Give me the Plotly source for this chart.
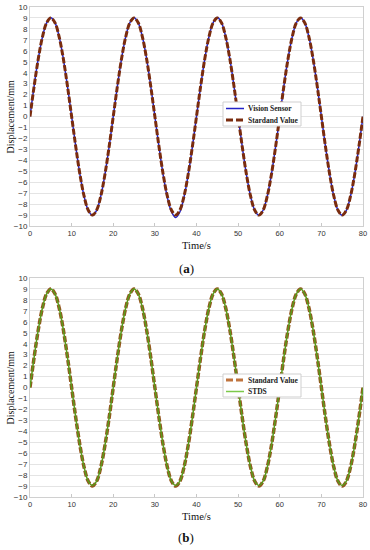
import plotly.graph_objects as go

time_s = [0, 1, 2, 3, 4, 5, 6, 7, 8, 9, 10, 11, 12, 13, 14, 15, 16, 17, 18, 19,
          20, 21, 22, 23, 24, 25, 26, 27, 28, 29, 30, 31, 32, 33, 34, 35, 36, 37, 38, 39,
          40, 41, 42, 43, 44, 45, 46, 47, 48, 49, 50, 51, 52, 53, 54, 55, 56, 57, 58, 59,
          60, 61, 62, 63, 64, 65, 66, 67, 68, 69, 70, 71, 72, 73, 74, 75, 76, 77, 78, 79, 80]

standard_value = [0, 2.78, 5.29, 7.28, 8.56, 9.0, 8.56, 7.28, 5.29, 2.78,
                  0, -2.78, -5.29, -7.28, -8.56, -9.0, -8.56, -7.28, -5.29, -2.78,
                  0, 2.78, 5.29, 7.28, 8.56, 9.0, 8.56, 7.28, 5.29, 2.78,
                  0, -2.78, -5.29, -7.28, -8.56, -9.0, -8.56, -7.28, -5.29, -2.78,
                  0, 2.78, 5.29, 7.28, 8.56, 9.0, 8.56, 7.28, 5.29, 2.78,
                  0, -2.78, -5.29, -7.28, -8.56, -9.0, -8.56, -7.28, -5.29, -2.78,
                  0, 2.78, 5.29, 7.28, 8.56, 9.0, 8.56, 7.28, 5.29, 2.78,
                  0, -2.78, -5.29, -7.28, -8.56, -9.0, -8.56, -7.28, -5.29, -2.78, 0]

vision_sensor = [0, 2.80, 5.30, 7.27, 8.55, 9.02, 8.57, 7.30, 5.28, 2.77,
                 0.02, -2.76, -5.30, -7.30, -8.58, -9.03, -8.57, -7.27, -5.30, -2.79,
                 0.01, 2.79, 5.28, 7.29, 8.57, 9.01, 8.55, 7.28, 5.31, 2.80,
                 0.03, -2.80, -5.35, -7.38, -8.70, -9.22, -8.72, -7.36, -5.32, -2.80,
                 0.0, 2.77, 5.29, 7.28, 8.58, 9.03, 8.57, 7.29, 5.30, 2.78,
                 0.01, -2.78, -5.30, -7.29, -8.57, -9.02, -8.56, -7.28, -5.28, -2.77,
                 0.0, 2.79, 5.30, 7.28, 8.56, 9.02, 8.57, 7.27, 5.29, 2.79,
                 0.01, -2.79, -5.29, -7.29, -8.57, -9.02, -8.57, -7.28, -5.30, -2.78, 0]

stds = [0, 2.78, 5.29, 7.28, 8.56, 9.0, 8.56, 7.28, 5.29, 2.78,
        0, -2.78, -5.29, -7.28, -8.56, -8.95, -8.56, -7.28, -5.29, -2.78,
        0, 2.78, 5.29, 7.28, 8.56, 9.0, 8.56, 7.28, 5.29, 2.78,
        0, -2.78, -5.29, -7.28, -8.56, -8.95, -8.56, -7.28, -5.29, -2.78,
        0, 2.78, 5.29, 7.28, 8.56, 9.0, 8.56, 7.28, 5.29, 2.78,
        0, -2.78, -5.29, -7.28, -8.56, -8.95, -8.56, -7.28, -5.29, -2.78,
        0, 2.78, 5.29, 7.28, 8.56, 9.0, 8.56, 7.28, 5.29, 2.78,
        0, -2.78, -5.29, -7.28, -8.56, -8.95, -8.56, -7.28, -5.29, -2.78, 0]

y_ticks = list(range(-10, 11))
x_ticks = [0, 10, 20, 30, 40, 50, 60, 70, 80]

SERIF = "Liberation Serif"
SANS = "Liberation Sans"

C_VISION = "#2323c8"
C_STD_A = "#7a2c0e"
C_STD_B = "#94561e"
C_STDS = "#5a9a1c"
C_STDS_LEG = "#7cc94a"
C_STD_B_LEG = "#c0743e"
DASH = "6px,2px"

fig = go.Figure()

# Top panel (a)
fig.add_trace(go.Scatter(x=time_s, y=vision_sensor, mode="lines", line_shape="spline",
                         line=dict(color=C_VISION, width=1.5), name="Vision Sensor",
                         xaxis="x", yaxis="y"))
fig.add_trace(go.Scatter(x=time_s, y=standard_value, mode="lines", line_shape="spline",
                         line=dict(color=C_STD_A, width=3, dash=DASH), name="Stardand Value",
                         xaxis="x", yaxis="y"))

# Bottom panel (b)
fig.add_trace(go.Scatter(x=time_s, y=standard_value, mode="lines", line_shape="spline",
                         line=dict(color=C_STD_B, width=3.5, dash=DASH), name="Standard Value",
                         xaxis="x2", yaxis="y2"))
fig.add_trace(go.Scatter(x=time_s, y=stds, mode="lines", line_shape="spline",
                         line=dict(color=C_STDS, width=1.5), name="STDS",
                         xaxis="x2", yaxis="y2"))

FW, FH = 370, 550
PL, PR, PT, PB = 30, 363, 7, 497
W = PR - PL
H = PB - PT
top_dom = [(PB - 226) / H, 1.0]
bot_dom = [0.0, (PB - 278) / H]


def px(x):
    return (x - PL) / W


def py(y):
    return (PB - y) / H


xax = dict(range=[0, 80], tickvals=x_ticks, showgrid=False, zeroline=False,
           showline=True, linecolor="#d0d0d0", mirror=True, automargin=False,
           ticks="inside", ticklen=3, tickcolor="#c8c8c8",
           tickfont=dict(family=SANS, size=7.5, color="#333333"))
yax = dict(range=[-10, 10], tickvals=y_ticks, showgrid=True, gridcolor="#e4e4e4", gridwidth=1,
           zeroline=False, showline=True, linecolor="#d0d0d0", mirror=True, ticks="",
           automargin=False,
           tickfont=dict(family=SANS, size=8, color="#333333"))

shapes = []
annotations = []


def legend_box(x0, y0, x1, y1, entries):
    shapes.append(dict(type="rect", xref="paper", yref="paper",
                       x0=px(x0), x1=px(x1), y0=py(y1), y1=py(y0),
                       fillcolor="white", line=dict(color="#cfcfcf", width=1), layer="above"))
    for (yy, color, width, dash, label) in entries:
        shapes.append(dict(type="line", xref="paper", yref="paper",
                           x0=px(x0 + 3), x1=px(x0 + 21), y0=py(yy), y1=py(yy),
                           line=dict(color=color, width=width, dash=dash), layer="above"))
        annotations.append(dict(text="<b>" + label + "</b>", xref="paper", yref="paper",
                                x=px(x0 + 23), y=py(yy), xanchor="left", yanchor="middle",
                                showarrow=False, font=dict(family=SERIF, size=7.5, color="#222222")))


legend_box(223, 102, 301, 126, [
    (108.5, C_VISION, 1.5, "solid", "Vision Sensor"),
    (120, C_STD_A, 3, "7px,3px", "Stardand Value"),
])
legend_box(223, 374, 301, 397, [
    (380, C_STD_B_LEG, 3, "7px,3px", "Standard Value"),
    (391.5, C_STDS_LEG, 1.5, "solid", "STDS"),
])

annotations += [
    dict(text="Displacement/mm", xref="paper", yref="paper", x=px(10), y=(top_dom[0] + top_dom[1]) / 2,
         textangle=-90, showarrow=False, font=dict(family=SERIF, size=10, color="#111111"),
         xanchor="center", yanchor="middle"),
    dict(text="Displacement/mm", xref="paper", yref="paper", x=px(10), y=(bot_dom[0] + bot_dom[1]) / 2,
         textangle=-90, showarrow=False, font=dict(family=SERIF, size=10, color="#111111"),
         xanchor="center", yanchor="middle"),
    dict(text="Time/s", xref="paper", yref="paper", x=0.5, y=py(245),
         showarrow=False, font=dict(family=SERIF, size=10.5, color="#111111"),
         xanchor="center", yanchor="middle"),
    dict(text="Time/s", xref="paper", yref="paper", x=0.5, y=py(516),
         showarrow=False, font=dict(family=SERIF, size=10.5, color="#111111"),
         xanchor="center", yanchor="middle"),
    dict(text="(<b>a</b>)", xref="paper", yref="paper", x=px(186), y=py(268),
         showarrow=False, font=dict(family=SERIF, size=13, color="#111111"),
         xanchor="center", yanchor="middle"),
    dict(text="(<b>b</b>)", xref="paper", yref="paper", x=px(186), y=py(537),
         showarrow=False, font=dict(family=SERIF, size=13, color="#111111"),
         xanchor="center", yanchor="middle"),
]

fig.update_layout(
    width=FW, height=FH,
    margin=dict(l=PL, r=FW - PR, t=PT, b=FH - PB, autoexpand=False),
    paper_bgcolor="white", plot_bgcolor="white",
    showlegend=False,
    xaxis=dict(xax, domain=[0, 1], anchor="y"),
    yaxis=dict(yax, domain=top_dom, anchor="x"),
    xaxis2=dict(xax, domain=[0, 1], anchor="y2"),
    yaxis2=dict(yax, domain=bot_dom, anchor="x2"),
    shapes=shapes,
    annotations=annotations,
)

fig.write_html("out.html", config={"displayModeBar": False},
               post_script="document.body.style.margin='0';document.body.style.overflow='hidden';")
